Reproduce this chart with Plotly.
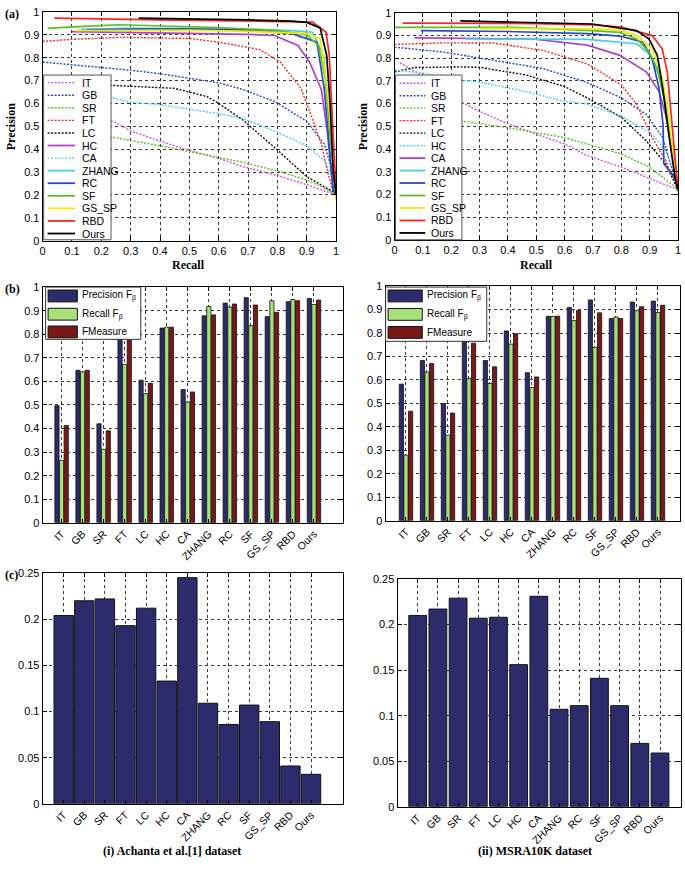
import plotly.graph_objects as go

W, H = 685, 871

methods = ["IT", "GB", "SR", "FT", "LC", "HC", "CA", "ZHANG", "RC", "SF", "GS_SP", "RBD", "Ours"]

# ---------------- PR curves, dataset (i) Achanta et al. ----------------
a_recall = {
    "IT": [0.02, 0.1, 0.2, 0.25, 0.3, 0.4, 0.5, 0.6, 0.68, 0.8, 0.9, 0.96, 1.0],
    "GB": [0.0, 0.1, 0.2, 0.3, 0.4, 0.5, 0.6, 0.68, 0.79, 0.9, 0.96, 0.98, 1.0],
    "SR": [0.02, 0.1, 0.2, 0.25, 0.4, 0.5, 0.6, 0.68, 0.8, 0.9, 0.96, 1.0],
    "FT": [0.0, 0.1, 0.27, 0.4, 0.5, 0.6, 0.7, 0.74, 0.81, 0.88, 0.91, 0.95, 0.97, 0.99, 1.0],
    "LC": [0.05, 0.15, 0.24, 0.3, 0.45, 0.56, 0.6, 0.68, 0.79, 0.9, 0.99, 1.0],
    "HC": [0.1, 0.3, 0.5, 0.7, 0.79, 0.87, 0.91, 0.95, 0.97, 0.99, 1.0],
    "CA": [0.05, 0.15, 0.24, 0.3, 0.4, 0.5, 0.6, 0.68, 0.79, 0.9, 0.96, 0.985, 1.0],
    "ZHANG": [0.13, 0.3, 0.5, 0.7, 0.85, 0.92, 0.957, 0.98, 1.0],
    "RC": [0.15, 0.3, 0.5, 0.7, 0.85, 0.935, 0.96, 0.975, 0.99, 1.0],
    "SF": [0.017, 0.1, 0.26, 0.4, 0.6, 0.8, 0.9, 0.94, 0.963, 0.98, 1.0],
    "GS_SP": [0.11, 0.3, 0.5, 0.7, 0.9, 0.946, 0.97, 0.99, 1.0],
    "RBD": [0.04, 0.2, 0.4, 0.6, 0.8, 0.92, 0.966, 0.977, 0.985, 0.996, 1.0],
    "Ours": [0.327, 0.5, 0.7, 0.85, 0.9, 0.946, 0.968, 0.98, 0.99, 1.0],
}
a_precision = {
    "IT": [0.66, 0.6, 0.54, 0.515, 0.48, 0.435, 0.395, 0.36, 0.325, 0.285, 0.245, 0.22, 0.2],
    "GB": [0.781, 0.77, 0.758, 0.745, 0.73, 0.71, 0.69, 0.662, 0.609, 0.522, 0.422, 0.336, 0.2],
    "SR": [0.52, 0.49, 0.46, 0.45, 0.415, 0.39, 0.365, 0.343, 0.305, 0.265, 0.23, 0.2],
    "FT": [0.871, 0.88, 0.889, 0.888, 0.884, 0.868, 0.846, 0.835, 0.781, 0.666, 0.566, 0.422, 0.307, 0.214, 0.2],
    "LC": [0.69, 0.685, 0.68, 0.675, 0.666, 0.63, 0.60, 0.53, 0.408, 0.28, 0.214, 0.2],
    "HC": [0.914, 0.91, 0.907, 0.902, 0.897, 0.853, 0.78, 0.66, 0.478, 0.22, 0.2],
    "CA": [0.66, 0.64, 0.624, 0.605, 0.595, 0.575, 0.555, 0.535, 0.48, 0.415, 0.35, 0.28, 0.2],
    "ZHANG": [0.925, 0.928, 0.928, 0.925, 0.918, 0.911, 0.81, 0.52, 0.2],
    "RC": [0.92, 0.925, 0.926, 0.92, 0.905, 0.868, 0.66, 0.45, 0.22, 0.2],
    "SF": [0.928, 0.935, 0.944, 0.94, 0.932, 0.918, 0.9, 0.854, 0.71, 0.45, 0.2],
    "GS_SP": [0.918, 0.92, 0.92, 0.915, 0.905, 0.883, 0.66, 0.38, 0.178],
    "RBD": [0.973, 0.968, 0.965, 0.962, 0.958, 0.955, 0.911, 0.81, 0.594, 0.28, 0.22],
    "Ours": [0.973, 0.97, 0.965, 0.96, 0.954, 0.93, 0.81, 0.594, 0.31, 0.2],
}

# ---------------- PR curves, dataset (ii) MSRA10K ----------------
b_recall = {
    "IT": [0.02, 0.1, 0.232, 0.3, 0.383, 0.5, 0.6, 0.68, 0.8, 0.9, 0.99, 1.0],
    "GB": [0.0, 0.174, 0.348, 0.523, 0.68, 0.8, 0.888, 0.946, 0.97, 1.0],
    "SR": [0.02, 0.1, 0.24, 0.4, 0.5, 0.6, 0.68, 0.8, 0.9, 0.99, 1.0],
    "FT": [0.0, 0.174, 0.348, 0.523, 0.68, 0.8, 0.854, 0.909, 0.956, 1.0],
    "LC": [0.0, 0.07, 0.232, 0.3, 0.465, 0.6, 0.68, 0.8, 0.888, 0.956, 1.0],
    "HC": [0.0, 0.1, 0.232, 0.3, 0.465, 0.6, 0.68, 0.8, 0.909, 0.956, 0.985, 1.0],
    "CA": [0.07, 0.3, 0.488, 0.68, 0.795, 0.888, 0.933, 0.956, 0.979, 1.0],
    "ZHANG": [0.25, 0.5, 0.68, 0.854, 0.898, 0.933, 0.956, 0.974, 1.0],
    "RC": [0.093, 0.4, 0.68, 0.795, 0.876, 0.909, 0.933, 0.947, 0.95, 0.99, 1.0],
    "SF": [0.0, 0.43, 0.697, 0.795, 0.854, 0.898, 0.927, 0.95, 0.98, 1.0],
    "GS_SP": [0.3, 0.5, 0.697, 0.795, 0.854, 0.909, 0.94, 0.962, 0.985, 1.0],
    "RBD": [0.029, 0.3, 0.5, 0.7, 0.8, 0.909, 0.944, 0.962, 0.977, 0.99, 1.0],
    "Ours": [0.232, 0.37, 0.5, 0.697, 0.854, 0.898, 0.927, 0.946, 0.969, 0.99, 1.0],
}
b_precision = {
    "IT": [0.78, 0.72, 0.609, 0.566, 0.52, 0.465, 0.422, 0.371, 0.32, 0.27, 0.226, 0.22],
    "GB": [0.849, 0.827, 0.791, 0.755, 0.693, 0.625, 0.552, 0.45, 0.35, 0.22],
    "SR": [0.6, 0.56, 0.523, 0.494, 0.472, 0.45, 0.422, 0.378, 0.32, 0.233, 0.21],
    "FT": [0.861, 0.868, 0.867, 0.835, 0.775, 0.683, 0.596, 0.45, 0.35, 0.22],
    "LC": [0.74, 0.759, 0.762, 0.76, 0.726, 0.675, 0.625, 0.54, 0.436, 0.335, 0.22],
    "HC": [0.748, 0.735, 0.704, 0.695, 0.653, 0.61, 0.598, 0.545, 0.465, 0.393, 0.306, 0.22],
    "CA": [0.89, 0.889, 0.885, 0.858, 0.813, 0.74, 0.653, 0.552, 0.407, 0.22],
    "ZHANG": [0.885, 0.885, 0.883, 0.864, 0.82, 0.726, 0.596, 0.45, 0.22],
    "RC": [0.922, 0.918, 0.909, 0.898, 0.871, 0.798, 0.668, 0.509, 0.335, 0.27, 0.22],
    "SF": [0.936, 0.936, 0.922, 0.914, 0.885, 0.827, 0.755, 0.625, 0.378, 0.22],
    "GS_SP": [0.932, 0.931, 0.93, 0.925, 0.9, 0.842, 0.74, 0.596, 0.35, 0.22],
    "RBD": [0.955, 0.955, 0.953, 0.947, 0.937, 0.9, 0.842, 0.74, 0.523, 0.335, 0.22],
    "Ours": [0.965, 0.96, 0.957, 0.951, 0.922, 0.885, 0.813, 0.668, 0.45, 0.27, 0.22],
}

# ---------------- F-measure bars ----------------
a_prec_fb = [0.497, 0.647, 0.42, 0.79, 0.605, 0.826, 0.565, 0.878, 0.932, 0.955, 0.875, 0.938, 0.952]
a_rec_fb = [0.265, 0.64, 0.312, 0.672, 0.548, 0.83, 0.512, 0.918, 0.915, 0.836, 0.942, 0.947, 0.926]
a_fmeasure = [0.413, 0.647, 0.39, 0.775, 0.592, 0.83, 0.555, 0.882, 0.928, 0.924, 0.893, 0.942, 0.945]

b_prec_fb = [0.582, 0.683, 0.50, 0.80, 0.683, 0.809, 0.631, 0.871, 0.909, 0.941, 0.862, 0.932, 0.936]
b_rec_fb = [0.28, 0.634, 0.365, 0.607, 0.585, 0.753, 0.568, 0.871, 0.853, 0.739, 0.868, 0.895, 0.887]
b_fmeasure = [0.467, 0.67, 0.459, 0.757, 0.656, 0.797, 0.613, 0.872, 0.896, 0.886, 0.862, 0.912, 0.918]

# ---------------- MAE bars ----------------
a_mae = [0.204, 0.220, 0.222, 0.193, 0.212, 0.133, 0.245, 0.109, 0.086, 0.107, 0.089, 0.041, 0.032]
b_mae = [0.210, 0.217, 0.229, 0.207, 0.208, 0.156, 0.231, 0.107, 0.111, 0.141, 0.111, 0.0696, 0.059]

# ---------------- styles ----------------
MAG, BLUE, GREEN, RED, BLACK = "#d64fd6", "#2848c8", "#5cbe20", "#ff2424", "#111111"
PURP, CYAN, YEL = "#b040d0", "#48cde4", "#f0ec00"
DOT = "2px,1.5px"
style_a = {"IT": (MAG, DOT), "GB": (BLUE, DOT), "SR": (GREEN, DOT), "FT": (RED, DOT),
           "LC": (BLACK, DOT), "HC": (PURP, "solid"), "CA": (CYAN, DOT), "ZHANG": (CYAN, "solid"),
           "RC": (BLUE, "solid"), "SF": (GREEN, "solid"), "GS_SP": (YEL, "solid"), "RBD": (RED, "solid"),
           "Ours": ("#000000", "solid")}
style_b = dict(style_a)
style_b["HC"] = (CYAN, DOT)
style_b["CA"] = (PURP, "solid")

NAVY, LGREEN, DRED = "#2c2c6c", "#a8e07a", "#7a1818"

SANS = "Liberation Sans Narrow, Liberation Sans, Arial, sans-serif"
SERIF = "Liberation Serif, Times New Roman, serif"


def px(x):
    return x / W


def py(y):
    return 1 - y / H


fig = go.Figure()

# PR curves
for m in methods:
    c, d = style_a[m]
    fig.add_trace(go.Scatter(x=a_recall[m], y=a_precision[m], mode="lines", name=m,
                             line=dict(color=c, dash=d, width=1.4 if d == DOT else 1.7),
                             xaxis="x", yaxis="y", showlegend=False))
for m in methods:
    c, d = style_b[m]
    fig.add_trace(go.Scatter(x=b_recall[m], y=b_precision[m], mode="lines", name=m,
                             line=dict(color=c, dash=d, width=1.4 if d == DOT else 1.7),
                             xaxis="x2", yaxis="y2", showlegend=False))

# F-measure bars
bw = 0.2
for vals, col, off in [(a_prec_fb, NAVY, -0.32), (a_rec_fb, LGREEN, -0.1), (a_fmeasure, DRED, 0.12)]:
    fig.add_trace(go.Bar(x=methods, y=vals, width=bw, offset=off, marker=dict(color=col, line=dict(color="#111", width=0.8)),
                         xaxis="x3", yaxis="y3", showlegend=False))
for vals, col, off in [(b_prec_fb, NAVY, -0.32), (b_rec_fb, LGREEN, -0.1), (b_fmeasure, DRED, 0.12)]:
    fig.add_trace(go.Bar(x=methods, y=vals, width=bw, offset=off, marker=dict(color=col, line=dict(color="#111", width=0.8)),
                         xaxis="x4", yaxis="y4", showlegend=False))

# MAE bars
fig.add_trace(go.Bar(x=methods, y=a_mae, width=0.94, marker=dict(color=NAVY, line=dict(color="#111", width=1)),
                     xaxis="x5", yaxis="y5", showlegend=False))
fig.add_trace(go.Bar(x=methods, y=b_mae, width=0.88, marker=dict(color=NAVY, line=dict(color="#111", width=1)),
                     xaxis="x6", yaxis="y6", showlegend=False))


def axis(domain, anchor, **kw):
    d = dict(domain=domain, anchor=anchor, showline=True, linecolor="black", linewidth=1, mirror="ticks",
             ticks="inside", ticklen=4, tickcolor="black", showgrid=True, gridcolor="#3a3a3a",
             griddash="dot", gridwidth=1, zeroline=False,
             tickfont=dict(family=SANS, size=11, color="black"))
    d.update(kw)
    return d


XT = dict(family=SANS, size=10.5, color="black")
lay = dict(width=W, height=H, margin=dict(l=0, r=0, t=0, b=0), plot_bgcolor="white", paper_bgcolor="white",
           barmode="overlay", showlegend=False)
lay["xaxis"] = axis([px(40), px(336)], "y", range=[0, 1], dtick=0.1, tick0=0)
lay["yaxis"] = axis([py(238), py(6)], "x", range=[0, 1], dtick=0.1, tick0=0)
lay["xaxis2"] = axis([px(395), px(681)], "y2", range=[0, 1], dtick=0.1, tick0=0)
lay["yaxis2"] = axis([py(237), py(7)], "x2", range=[0, 1], dtick=0.1, tick0=0)
lay["xaxis3"] = axis([px(40), px(343)], "y3", range=[-0.9, 13.38], tickangle=-45, tickfont=XT)
lay["yaxis3"] = axis([py(524), py(285)], "x3", range=[0, 1], dtick=0.1, tick0=0)
lay["xaxis4"] = axis([px(386), px(683)], "y4", range=[-0.97, 13.05], tickangle=-45, tickfont=XT)
lay["yaxis4"] = axis([py(522), py(284)], "x4", range=[0, 1], dtick=0.1, tick0=0)
lay["xaxis5"] = axis([px(40), px(343)], "y5", range=[-1.02, 13.55], tickangle=-45, tickfont=XT)
lay["yaxis5"] = axis([py(809), py(575)], "x5", range=[0, 0.25], dtick=0.05, tick0=0)
lay["xaxis6"] = axis([px(398), px(684)], "y6", range=[-1.0, 13.04], tickangle=-45, tickfont=XT)
lay["yaxis6"] = axis([py(812), py(581)], "x6", range=[0, 0.25], dtick=0.05, tick0=0)
fig.update_layout(**lay)

shapes = []
annotations = []


def txt(x, y, s, size=11, family=SANS, bold=False, xanchor="left", angle=0):
    annotations.append(dict(x=px(x), y=py(y), xref="paper", yref="paper", text=s, showarrow=False,
                            xanchor=xanchor, yanchor="middle", textangle=angle,
                            font=dict(family=family, size=size, color="black", weight="bold" if bold else "normal")))


# PR legends
def pr_legend(x0, x1, y0, y1, lx0, lx1, tx, ys, style):
    shapes.append(dict(type="rect", xref="paper", yref="paper", x0=px(x0), x1=px(x1), y0=py(y1), y1=py(y0),
                       fillcolor="white", line=dict(color="#555", width=1), layer="above"))
    for m, yy in zip(methods, ys):
        c, d = style[m]
        shapes.append(dict(type="line", xref="paper", yref="paper", x0=px(lx0), x1=px(lx1), y0=py(yy), y1=py(yy),
                           line=dict(color=c, dash=d, width=1.4 if d == DOT else 1.8), layer="above"))
        txt(tx, yy, m, size=10.5)


ys_a = [77.7 + i * 12.75 for i in range(13)]
pr_legend(41, 109, 70, 237, 45, 72.7, 77.5, ys_a, style_a)
ys_b = [78.3 + i * 12.65 for i in range(13)]
pr_legend(396, 463, 70, 237, 400, 426, 430, ys_b, style_b)


# bar legends
def bar_legend(x0, x1, y0, y1, rx0, rx1, tx, ys):
    shapes.append(dict(type="rect", xref="paper", yref="paper", x0=px(x0), x1=px(x1), y0=py(y1), y1=py(y0),
                       fillcolor="white", line=dict(color="#333", width=1), layer="above"))
    labels = ["Precision F<sub>β</sub>", "Recall F<sub>β</sub>", "FMeasure"]
    for lab, col, yy in zip(labels, [NAVY, LGREEN, DRED], ys):
        shapes.append(dict(type="rect", xref="paper", yref="paper", x0=px(rx0), x1=px(rx1),
                           y0=py(yy + 6), y1=py(yy - 6), fillcolor=col, line=dict(color="#111", width=1),
                           layer="above"))
        txt(tx, yy, lab, size=10)


bar_legend(43, 139, 285, 338, 45.5, 75, 77.5, [294, 312.5, 330.5])
bar_legend(386, 488, 285, 340, 388.5, 423, 426, [294, 312.7, 331])

# titles & labels
txt(0, 8, "(a)", size=12, family=SERIF, bold=True)
txt(0, 287, "(b)", size=12, family=SERIF, bold=True)
txt(0, 577, "(c)", size=12, family=SERIF, bold=True)
txt(8, 122, "Precision", size=12, family=SERIF, bold=True, xanchor="center", angle=-90)
txt(363, 122, "Precision", size=12, family=SERIF, bold=True, xanchor="center", angle=-90)
txt(187, 263, "Recall", size=12, family=SERIF, bold=True, xanchor="center")
txt(538, 263, "Recall", size=12, family=SERIF, bold=True, xanchor="center")
txt(170, 857, "(i) Achanta et al.[1] dataset", size=12, family=SERIF, bold=True, xanchor="center")
txt(537, 857, "(ii) MSRA10K dataset", size=12, family=SERIF, bold=True, xanchor="center")

fig.update_layout(shapes=shapes, annotations=annotations)
fig.write_html("out.html", config={"displayModeBar": False},
               post_script="document.body.style.margin='0px';document.body.style.overflow='hidden';")
